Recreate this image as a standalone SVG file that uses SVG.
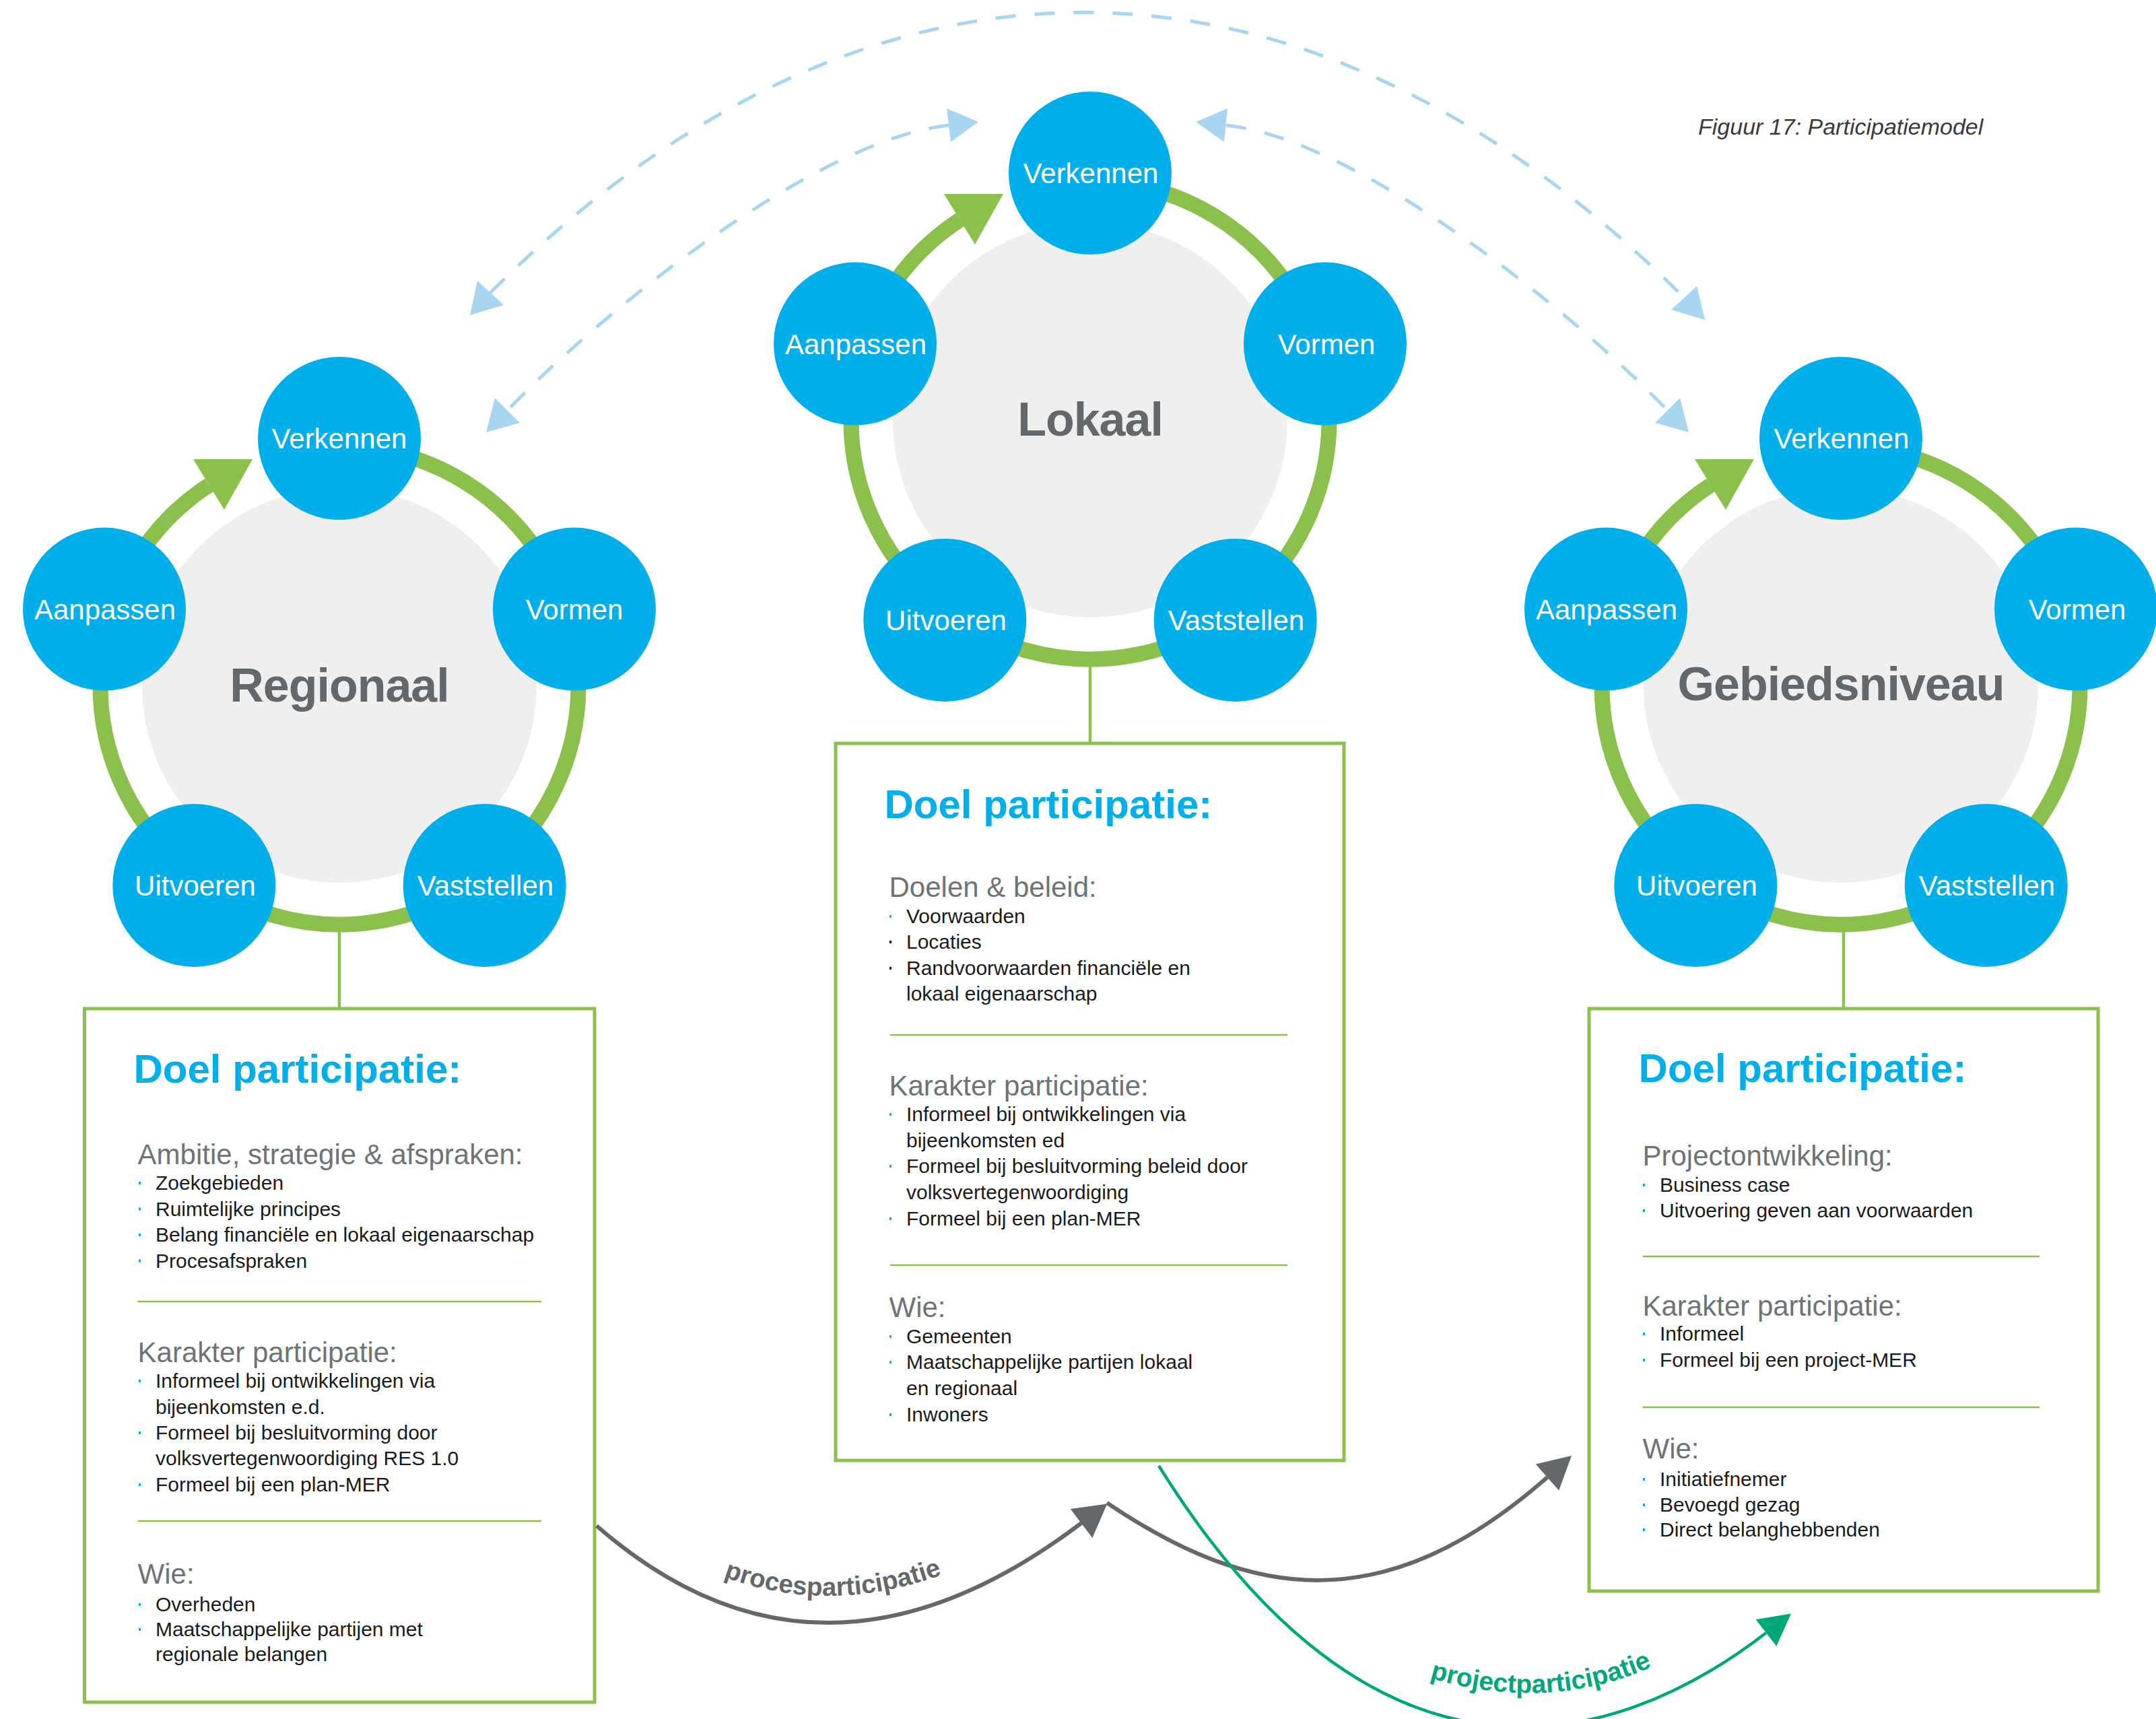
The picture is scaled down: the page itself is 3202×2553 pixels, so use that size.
<svg xmlns="http://www.w3.org/2000/svg" xmlns:xlink="http://www.w3.org/1999/xlink" width="3202" height="2553" viewBox="0 0 3202 2553">
<style>
  text { font-family: "Liberation Sans", Arial, sans-serif; }
  .core { fill: #EFEFEF; }
  .ring { fill: none; stroke: #8CC04C; stroke-width: 23; }
  .ringhead { fill: #8CC04C; }
  .step circle { fill: #00AEEA; }
  .step text { fill: #FFFFFF; font-size: 42px; text-anchor: middle; }
  .title { fill: #62686B; font-size: 70px; font-weight: bold; text-anchor: middle; letter-spacing: -1px; }
  .box { fill: #FFFFFF; stroke: #8CC04C; stroke-width: 5; }
  .h1 { fill: #00AEEA; font-size: 60px; font-weight: bold; }
  .h2 { fill: #6D7377; font-size: 42px; }
  .li { fill: #1A1A1A; font-size: 30px; }
  .sep { stroke: #8CC04C; stroke-width: 2.5; }
  .bul { fill: #00AEEA; }
  .bulk { fill: #1A1A1A; }
  .stem { stroke: #8CC04C; stroke-width: 4.5; }
  .dash { fill: none; stroke: #A8D6F1; stroke-width: 5; stroke-dasharray: 30 28; }
  .dhead { fill: #A8D6F1; }
  .garrow { fill: none; stroke: #63686B; stroke-width: 6; }
  .ghead { fill: #63686B; }
  .parrow { fill: none; stroke: #00A77A; stroke-width: 4.5; }
  .phead { fill: #00A77A; }
  .caption { fill: #3A3A3A; font-size: 34px; font-style: italic; }
</style>
<defs>
  <path id="procPath" d="M1021,2318.6 Q1227,2422.6 1453,2316.2"/>
  <path id="projPath" d="M2107.6,2487.3 Q2301.2,2549.5 2468.7,2468.5"/>
</defs>

<text class="caption" x="2522" y="200">Figuur 17: Participatiemodel</text>

<!-- Regionaal cycle -->
<g id="regionaal" transform="translate(504,1018)">
  <circle class="core" cx="0" cy="0" r="293"/>
  <path class="ring" d="M61.6,-349.6 A355,355 0 1 1 -193.3,-297.7"/>
  <polygon class="ringhead" points="-217,-336 -129,-336 -171,-261"/>
  <text class="title" x="0" y="24">Regionaal</text>
</g>
<g id="regionaal-verkennen" class="step"><circle cx="504" cy="651" r="121"/><text x="504" y="666">Verkennen</text></g>
<g id="regionaal-vormen" class="step"><circle cx="853" cy="904.6" r="121"/><text x="853" y="920">Vormen</text></g>
<g id="regionaal-vaststellen" class="step"><circle cx="719.7" cy="1314.9" r="121"/><text x="721" y="1330">Vaststellen</text></g>
<g id="regionaal-uitvoeren" class="step"><circle cx="288.3" cy="1314.9" r="121"/><text x="290" y="1330">Uitvoeren</text></g>
<g id="regionaal-aanpassen" class="step"><circle cx="155" cy="904.6" r="121"/><text x="156" y="920">Aanpassen</text></g>

<!-- Lokaal cycle -->
<g id="lokaal" transform="translate(1619,624)">
  <circle class="core" cx="0" cy="0" r="293"/>
  <path class="ring" d="M61.6,-349.6 A355,355 0 1 1 -193.3,-297.7"/>
  <polygon class="ringhead" points="-217,-336 -129,-336 -171,-261"/>
  <text class="title" x="0" y="23">Lokaal</text>
</g>
<g id="lokaal-verkennen" class="step"><circle cx="1619" cy="257" r="121"/><text x="1620" y="272">Verkennen</text></g>
<g id="lokaal-vormen" class="step"><circle cx="1968" cy="510.6" r="121"/><text x="1970" y="526">Vormen</text></g>
<g id="lokaal-vaststellen" class="step"><circle cx="1834.7" cy="920.9" r="121"/><text x="1836" y="936">Vaststellen</text></g>
<g id="lokaal-uitvoeren" class="step"><circle cx="1403.3" cy="920.9" r="121"/><text x="1405" y="936">Uitvoeren</text></g>
<g id="lokaal-aanpassen" class="step"><circle cx="1270" cy="510.6" r="121"/><text x="1271" y="526">Aanpassen</text></g>

<!-- Gebiedsniveau cycle -->
<g id="gebiedsniveau" transform="translate(2734,1018)">
  <circle class="core" cx="0" cy="0" r="293"/>
  <path class="ring" d="M61.6,-349.6 A355,355 0 1 1 -193.3,-297.7"/>
  <polygon class="ringhead" points="-217,-336 -129,-336 -171,-261"/>
  <text class="title" x="0" y="22">Gebiedsniveau</text>
</g>
<g id="gebied-verkennen" class="step"><circle cx="2734" cy="651" r="121"/><text x="2735" y="666">Verkennen</text></g>
<g id="gebied-vormen" class="step"><circle cx="3083" cy="904.6" r="121"/><text x="3085" y="920">Vormen</text></g>
<g id="gebied-vaststellen" class="step"><circle cx="2949.7" cy="1314.9" r="121"/><text x="2951" y="1330">Vaststellen</text></g>
<g id="gebied-uitvoeren" class="step"><circle cx="2518.3" cy="1314.9" r="121"/><text x="2520" y="1330">Uitvoeren</text></g>
<g id="gebied-aanpassen" class="step"><circle cx="2385" cy="904.6" r="121"/><text x="2386" y="920">Aanpassen</text></g>

<!-- Regionaal box -->
<g id="box-regionaal">
  <rect class="box" x="125.5" y="1498" width="757.5" height="1030"/>
  <text class="h1" x="198.5" y="1608">Doel participatie:</text>
  <text class="h2" x="204.6" y="1729">Ambitie, strategie &amp; afspraken:</text>
  <rect class="bul" x="206" y="1755" width="3" height="4"/><text class="li" x="231" y="1767">Zoekgebieden</text>
  <rect class="bul" x="206" y="1793.5" width="3" height="4"/><text class="li" x="231" y="1805.5">Ruimtelijke principes</text>
  <rect class="bul" x="206" y="1832" width="3" height="4"/><text class="li" x="231" y="1844">Belang financiële en lokaal eigenaarschap</text>
  <rect class="bul" x="206" y="1870.5" width="3" height="4"/><text class="li" x="231" y="1882.5">Procesafspraken</text>
  <line class="sep" x1="204.6" y1="1933" x2="804" y2="1933"/>
  <text class="h2" x="204.6" y="2023">Karakter participatie:</text>
  <rect class="bul" x="206" y="2049" width="3" height="4"/><text class="li" x="231" y="2061">Informeel bij ontwikkelingen via</text>
  <text class="li" x="231" y="2100">bijeenkomsten e.d.</text>
  <rect class="bul" x="206" y="2126" width="3" height="4"/><text class="li" x="231" y="2138">Formeel bij besluitvorming door</text>
  <text class="li" x="231" y="2176">volksvertegenwoordiging RES 1.0</text>
  <rect class="bul" x="206" y="2203" width="3" height="4"/><text class="li" x="231" y="2215">Formeel bij een plan-MER</text>
  <line class="sep" x1="204.6" y1="2259" x2="804" y2="2259"/>
  <text class="h2" x="204.6" y="2352">Wie:</text>
  <rect class="bul" x="206" y="2381" width="3" height="4"/><text class="li" x="231" y="2393">Overheden</text>
  <rect class="bul" x="206" y="2418" width="3" height="4"/><text class="li" x="231" y="2430">Maatschappelijke partijen met</text>
  <text class="li" x="231" y="2467">regionale belangen</text>
</g>

<!-- Lokaal box -->
<g id="box-lokaal">
  <rect class="box" x="1241" y="1104" width="755" height="1065"/>
  <text class="h1" x="1313.5" y="1215">Doel participatie:</text>
  <text class="h2" x="1320.5" y="1332">Doelen &amp; beleid:</text>
  <rect class="bul" x="1321" y="1359" width="3" height="4"/><text class="li" x="1346" y="1371">Voorwaarden</text>
  <rect class="bulk" x="1321" y="1397" width="3" height="4"/><text class="li" x="1346" y="1409">Locaties</text>
  <rect class="bulk" x="1321" y="1436" width="3" height="4"/><text class="li" x="1346" y="1448">Randvoorwaarden financiële en</text>
  <text class="li" x="1346" y="1486">lokaal eigenaarschap</text>
  <line class="sep" x1="1322" y1="1537" x2="1912" y2="1537"/>
  <text class="h2" x="1320.5" y="1627">Karakter participatie:</text>
  <rect class="bul" x="1321" y="1653" width="3" height="4"/><text class="li" x="1346" y="1665">Informeel bij ontwikkelingen via</text>
  <text class="li" x="1346" y="1704">bijeenkomsten ed</text>
  <rect class="bul" x="1321" y="1730" width="3" height="4"/><text class="li" x="1346" y="1742">Formeel bij besluitvorming beleid door</text>
  <text class="li" x="1346" y="1781">volksvertegenwoordiging</text>
  <rect class="bul" x="1321" y="1808" width="3" height="4"/><text class="li" x="1346" y="1820">Formeel bij een plan-MER</text>
  <line class="sep" x1="1322" y1="1879" x2="1912" y2="1879"/>
  <text class="h2" x="1320.5" y="1956">Wie:</text>
  <rect class="bul" x="1321" y="1983" width="3" height="4"/><text class="li" x="1346" y="1995">Gemeenten</text>
  <rect class="bul" x="1321" y="2021" width="3" height="4"/><text class="li" x="1346" y="2033">Maatschappelijke partijen lokaal</text>
  <text class="li" x="1346" y="2072">en regionaal</text>
  <rect class="bul" x="1321" y="2099" width="3" height="4"/><text class="li" x="1346" y="2111">Inwoners</text>
</g>

<!-- Gebiedsniveau box -->
<g id="box-gebiedsniveau">
  <rect class="box" x="2360" y="1498" width="756" height="865"/>
  <text class="h1" x="2433.6" y="1607">Doel participatie:</text>
  <text class="h2" x="2439.5" y="1731">Projectontwikkeling:</text>
  <rect class="bul" x="2440" y="1758" width="3" height="4"/><text class="li" x="2465" y="1770">Business case</text>
  <rect class="bul" x="2440" y="1796" width="3" height="4"/><text class="li" x="2465" y="1808">Uitvoering geven aan voorwaarden</text>
  <line class="sep" x1="2439.5" y1="1866" x2="3029" y2="1866"/>
  <text class="h2" x="2439.5" y="1953.5">Karakter participatie:</text>
  <rect class="bul" x="2440" y="1979" width="3" height="4"/><text class="li" x="2465" y="1991">Informeel</text>
  <rect class="bul" x="2440" y="2018" width="3" height="4"/><text class="li" x="2465" y="2030">Formeel bij een project-MER</text>
  <line class="sep" x1="2439.5" y1="2090" x2="3029" y2="2090"/>
  <text class="h2" x="2439.5" y="2166">Wie:</text>
  <rect class="bul" x="2440" y="2195" width="3" height="4"/><text class="li" x="2465" y="2207">Initiatiefnemer</text>
  <rect class="bul" x="2440" y="2233" width="3" height="4"/><text class="li" x="2465" y="2245">Bevoegd gezag</text>
  <rect class="bul" x="2440" y="2270" width="3" height="4"/><text class="li" x="2465" y="2282">Direct belanghebbenden</text>
</g>

<!-- Connectors -->
<g id="connectors">
  <line class="stem" x1="504" y1="1382" x2="504" y2="1498"/>
  <line class="stem" x1="1619" y1="988" x2="1619" y2="1104"/>
  <line class="stem" x1="2738" y1="1382" x2="2738" y2="1498"/>

  <path class="dash" d="M728,435 C1288,-125 1941,-118 2501,442"/>
  <polygon class="dhead" points="709,417 748,453 698,468"/>
  <polygon class="dhead" points="2520,425 2482,460 2532,475"/>

  <path class="dash" d="M1409,186 C1209,208 891,466 753,610"/>
  <polygon class="dhead" points="1406,161 1412,211 1453,181"/>
  <polygon class="dhead" points="735,591 772,628 722,642"/>

  <path class="dash" d="M1821,186 C2021,208 2339,466 2477,610"/>
  <polygon class="dhead" points="1823,161 1818,211 1776,181"/>
  <polygon class="dhead" points="2495,591 2458,628 2508,642"/>

  <path class="garrow" d="M886,2266 Q1218,2556 1606,2262"/>
  <polygon class="ghead" points="1589.7,2241 1622.3,2284 1644.3,2233.5"/>
  <text fill="#63686B" font-size="38.5" font-weight="bold"><textPath xlink:href="#procPath" href="#procPath" startOffset="50%" text-anchor="middle">procesparticipatie</textPath></text>

  <path class="garrow" d="M1644,2232 C1860,2378 2058,2405 2298,2194"/>
  <polygon class="ghead" points="2280.8,2174.5 2315.2,2213.5 2334,2162"/>

  <path class="parrow" d="M1721,2177 C2039,2687 2386,2608 2623,2425"/>
  <polygon class="phead" points="2607.7,2405.2 2638.3,2444.8 2660,2396.4"/>
  <text fill="#00A77A" font-size="39" font-weight="bold"><textPath xlink:href="#projPath" href="#projPath" startOffset="50%" text-anchor="middle">projectparticipatie</textPath></text>
</g>
</svg>
